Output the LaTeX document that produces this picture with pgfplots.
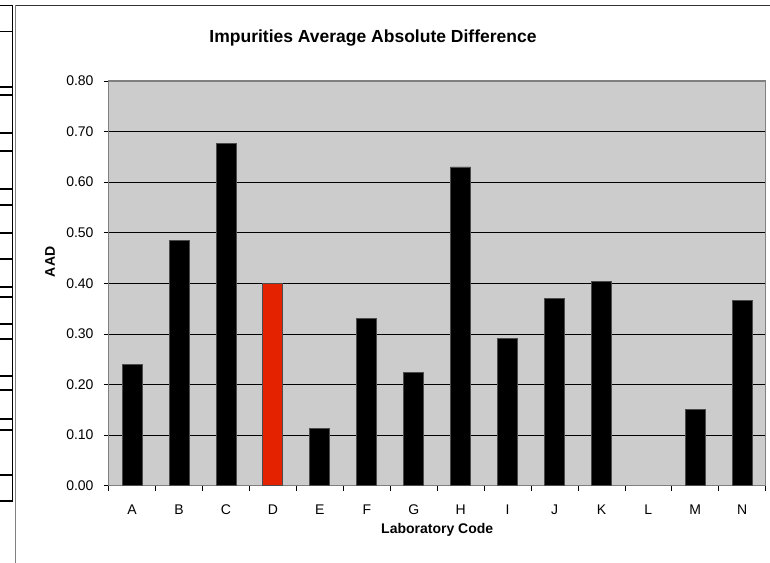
\documentclass[border=0pt]{standalone}
\usepackage{fontspec}
\setmainfont{Liberation Sans}
\usepackage{pgfplots}
\pgfplotsset{compat=1.18}
\definecolor{plotbg}{RGB}{204,204,204}
\definecolor{barred}{RGB}{229,34,0}
\definecolor{framegray}{RGB}{128,128,128}
\begin{document}
\begin{tikzpicture}
\useasboundingbox (0,0) rectangle (770bp,563bp);
\begin{axis}[
  at={(108.7bp,77.3bp)}, anchor=south west,
  scale only axis, width=657bp, height=404.7bp,
  xmin=0.5, xmax=14.5, ymin=0, ymax=0.8,
  xtick={1,...,14},
  xticklabels={A,B,C,D,E,F,G,H,I,J,K,L,M,N},
  minor xtick={0.5,1.5,...,14.5},
  ytick={0,0.1,...,0.8},
  yticklabel={\pgfmathprintnumber[fixed,fixed zerofill,precision=2]{\tick}},
  /pgf/number format/assume math mode=true,
  tick align=outside, tick pos=left,
  major x tick style={draw=none},
  minor tick length=5bp, major tick length=5bp,
  tick style={black, line width=0.8bp},
  ymajorgrids, major grid style={black, line width=0.8bp},
  axis line style={framegray, line width=1.2bp},
  axis background/.style={fill=plotbg},
  font=\fontsize{14bp}{16bp}\selectfont,
  xticklabel style={anchor=north, inner sep=0pt, yshift=-14bp},
  yticklabel style={anchor=east, inner sep=0pt, xshift=-10bp},
  xlabel={\textbf{Laboratory Code}},
  ylabel={\textbf{AAD}},
  xlabel style={at={(axis description cs:0.5,-0.1095)}, anchor=center},
  ylabel style={at={(axis description cs:-0.0893,0.553)}, anchor=center, rotate=0},
  ybar, bar width=20bp, bar shift=0pt,
]
\addplot[fill=black, draw=black!70, line width=0.8bp] coordinates {
 (1,0.240) (2,0.484) (3,0.676) (5,0.113) (6,0.331) (7,0.224) (8,0.630)
 (9,0.291) (10,0.370) (11,0.404) (13,0.151) (14,0.367)
};
\addplot[fill=barred, draw=black!70, line width=1bp] coordinates {
 (4,0.400)
};
\end{axis}
\node[font=\fontsize{17.5bp}{20bp}\selectfont\bfseries, inner sep=0pt] at (373bp,525bp) {Impurities Average Absolute Difference};
% chart and sheet frame
\draw[black!80, line width=1.2bp] (15bp,557.6bp) -- (770bp,557.6bp);
\draw[framegray, line width=1bp] (15.4bp,557.6bp) -- (15.4bp,0bp);
\draw[black, line width=1.2bp] (12.5bp,557.6bp) -- (12.5bp,62bp);
\foreach \yy in {557.6,531.5,476,468,430,412,374,358,330,304,276,266,239,224,187,173,144,133,88,62}
  \draw[black, line width=1.2bp] (0bp,\yy bp) -- (12.5bp,\yy bp);
\end{tikzpicture}
\end{document}
